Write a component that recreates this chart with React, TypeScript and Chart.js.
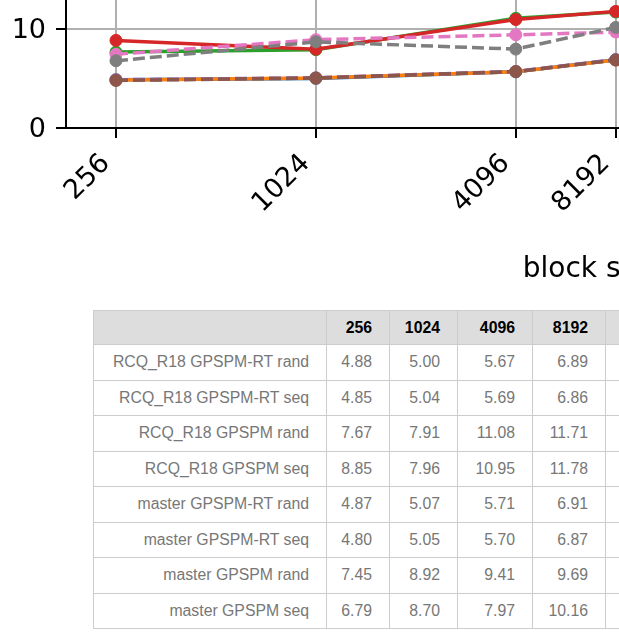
import React, { useEffect, useRef } from "react";
import { Chart, registerables } from "chart.js";
Chart.register(...registerables);

const blockSizes = [256, 1024, 4096, 8192];
const xTickLabels = ["256", "1024", "4096", "8192"];
const yTicks = [0, 10];
const xAxisTitle = "block size";

const seriesNames = [
  "RCQ_R18 GPSPM-RT rand",
  "RCQ_R18 GPSPM-RT seq",
  "RCQ_R18 GPSPM rand",
  "RCQ_R18 GPSPM seq",
  "master GPSPM-RT rand",
  "master GPSPM-RT seq",
  "master GPSPM rand",
  "master GPSPM seq",
];
const rcqRtRand = [4.88, 5.0, 5.67, 6.89];
const rcqRtSeq = [4.85, 5.04, 5.69, 6.86];
const rcqRand = [7.67, 7.91, 11.08, 11.71];
const rcqSeq = [8.85, 7.96, 10.95, 11.78];
const masterRtRand = [4.87, 5.07, 5.71, 6.91];
const masterRtSeq = [4.8, 5.05, 5.7, 6.87];
const masterRand = [7.45, 8.92, 9.41, 9.69];
const masterSeq = [6.79, 8.7, 7.97, 10.16];

const seriesValues = [
  rcqRtRand,
  rcqRtSeq,
  rcqRand,
  rcqSeq,
  masterRtRand,
  masterRtSeq,
  masterRand,
  masterSeq,
];
const seriesColors = [
  "#1f77b4",
  "#ff7f0e",
  "#2ca02c",
  "#d62728",
  "#9467bd",
  "#8c564b",
  "#e377c2",
  "#7f7f7f",
];
const seriesDashed = [false, false, false, false, true, true, true, true];

const CANVAS_W = 1200;
const CANVAS_H = 327;
const X_AXIS_H = 159;
const FONT = "'DejaVu Sans', sans-serif";

function ChartView() {
  const ref = useRef<HTMLCanvasElement | null>(null);
  useEffect(() => {
    if (!ref.current) return;
    const datasets = seriesNames.map((name, i) => ({
      label: name,
      data: blockSizes.map((x, j) => ({ x, y: seriesValues[i][j] })),
      borderColor: seriesColors[i],
      backgroundColor: seriesColors[i],
      pointBackgroundColor: seriesColors[i],
      pointBorderColor: seriesColors[i],
      pointRadius: 6,
      pointBorderWidth: 1,
      borderWidth: 3.5,
      borderDash: seriesDashed[i] ? [12, 5] : [],
      fill: false,
      tension: 0,
      order: -i,
    }));
    const chart = new Chart(ref.current, {
      type: "line",
      data: { datasets },
      options: {
        animation: false,
        responsive: false,
        devicePixelRatio: 1,
        layout: { padding: { top: 29.4, left: 0, right: CANVAS_W - 1117, bottom: 0 } },
        plugins: { legend: { display: false }, tooltip: { enabled: false } },
        scales: {
          x: {
            type: "logarithmic",
            min: Math.pow(2, 7.5),
            max: Math.pow(2, 18.015),
            afterBuildTicks: (s: any) => {
              s.ticks = blockSizes.map((v) => ({ value: v }));
            },
            afterFit: (s: any) => {
              s.height = X_AXIS_H;
            },
            ticks: {
              autoSkip: false,
              minRotation: 45,
              maxRotation: 45,
              padding: 10,
              labelOffset: -10,
              color: "#000",
              font: { family: FONT, size: 27 },
              callback: (_v: any, i: number) => xTickLabels[i],
            },
            grid: {
              color: "#b0b0b0",
              lineWidth: 2,
              tickLength: 10,
              tickColor: "#000",
              tickWidth: 2,
            },
            border: { color: "#000", width: 2 },
            title: {
              display: true,
              text: xAxisTitle,
              color: "#000",
              font: { family: FONT, size: 28 },
              padding: 0,
            },
          },
          y: {
            type: "linear",
            min: 0,
            max: 14,
            afterBuildTicks: (s: any) => {
              s.ticks = yTicks.map((v) => ({ value: v }));
            },
            afterFit: (s: any) => {
              s.width = 66;
            },
            ticks: {
              padding: 10,
              labelOffset: 2,
              color: "#000",
              font: { family: FONT, size: 27 },
              callback: (v: any) => String(v),
            },
            grid: {
              color: (c: any) => (c.tick && c.tick.value === 0 ? "rgba(0,0,0,0)" : "#b0b0b0"),
              lineWidth: 2,
              tickLength: 10,
              tickColor: "#000",
              tickWidth: 2,
            },
            border: { color: "#000", width: 2 },
          },
        },
      },
    });
    return () => chart.destroy();
  }, []);
  return (
    <canvas
      ref={ref}
      width={CANVAS_W}
      height={CANVAS_H}
      style={{ position: "absolute", left: 0, top: -40, width: CANVAS_W, height: CANVAS_H }}
    />
  );
}

const colWidths = [233, 63, 68, 75, 73, 80];
const border = "1px solid #cccccc";

function DataTable() {
  const cell: React.CSSProperties = {
    border,
    padding: "8.25px 17px 8.25px 8px",
    lineHeight: "18px",
    textAlign: "right",
    color: "#777777",
    whiteSpace: "nowrap",
    overflow: "hidden",
  };
  const head: React.CSSProperties = {
    ...cell,
    padding: "8px 17px 7px 8px",
    background: "#dddddd",
    color: "#000",
    fontWeight: "bold",
  };
  return (
    <table
      style={{
        position: "absolute",
        left: 93,
        top: 310,
        borderCollapse: "collapse",
        tableLayout: "fixed",
        width: colWidths.reduce((a, b) => a + b, 0),
        fontFamily: "'Liberation Sans', Arial, sans-serif",
        fontSize: "15.8px",
      }}
    >
      <colgroup>
        {colWidths.map((w, i) => (
          <col key={i} style={{ width: w }} />
        ))}
      </colgroup>
      <thead>
        <tr>
          <th style={head}></th>
          {xTickLabels.map((t) => (
            <th key={t} style={head}>
              {t}
            </th>
          ))}
          <th style={head}></th>
        </tr>
      </thead>
      <tbody>
        {seriesNames.map((name, i) => (
          <tr key={name}>
            <td style={cell}>{name}</td>
            {seriesValues[i].map((v, j) => (
              <td key={j} style={cell}>
                {v.toFixed(2)}
              </td>
            ))}
            <td style={cell}></td>
          </tr>
        ))}
      </tbody>
    </table>
  );
}

export default function App() {
  useEffect(() => {
    document.documentElement.style.overflow = "hidden";
    document.body.style.overflow = "hidden";
  }, []);
  return (
    <div
      style={{
        position: "fixed",
        left: 0,
        top: 0,
        width: 619,
        height: 643,
        overflow: "hidden",
        background: "#fff",
      }}
    >
      <ChartView />
      <DataTable />
    </div>
  );
}
